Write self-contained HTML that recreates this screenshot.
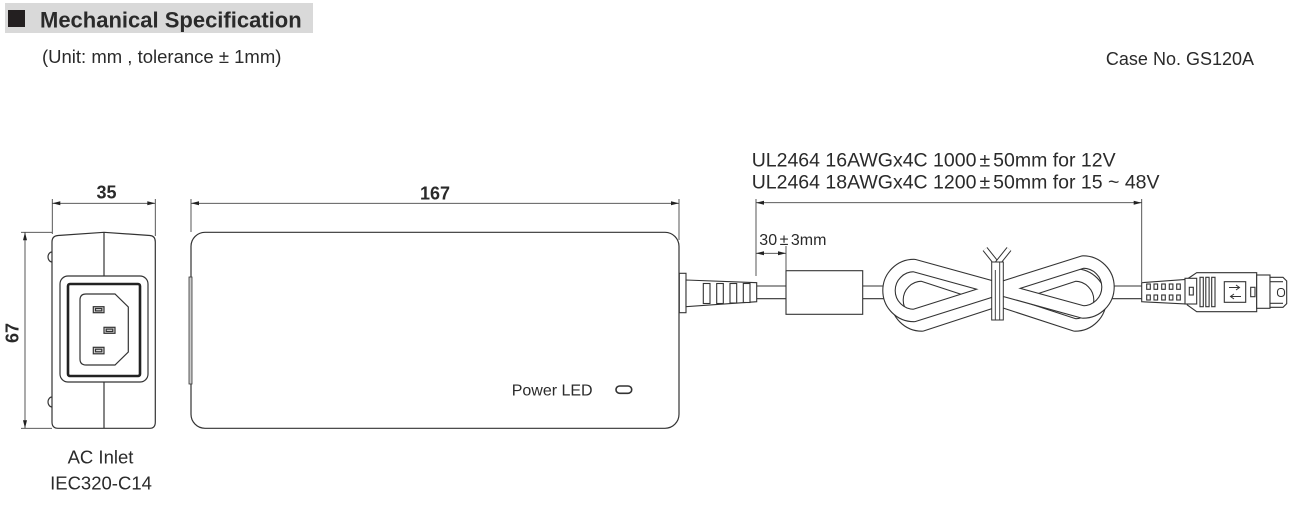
<!DOCTYPE html>
<html><head><meta charset="utf-8"><style>
html,body{margin:0;padding:0;background:#fff;}
svg{display:block;}
text{font-family:"Liberation Sans",Arial,sans-serif;fill:#2a2a2a;}
</style></head><body>
<svg width="1305" height="518" viewBox="0 0 1305 518" xmlns="http://www.w3.org/2000/svg">
<rect width="1305" height="518" fill="#fff"/>
<!-- header -->
<rect x="5" y="3" width="308" height="30" fill="#d9d9d9"/>
<rect x="8" y="10" width="17" height="17" fill="#231f20"/>
<text x="40" y="27.5" font-size="22" font-weight="bold">Mechanical Specification</text>
<text x="42" y="63" font-size="18.5">(Unit: mm , tolerance ± 1mm)</text>
<text x="1254" y="65" font-size="18" text-anchor="end">Case No. GS120A</text>

<!-- ===== Left view (AC inlet) ===== -->
<g stroke="#333" fill="none" stroke-width="1.2">
  <path d="M52,242 Q52,236 58,235.5 L104,232.3 L150,235.5 Q155.3,236 155.3,242 L155.3,422 Q155.3,428.3 150,428.3 L58,428.3 Q52,428.3 52,422 Z"/>
  <line x1="104" y1="232.3" x2="104" y2="276"/>
  <line x1="104" y1="382" x2="104" y2="428.3"/>
  <path d="M52,252 A4,5 0 0 0 52,262"/>
  <path d="M52,397 A4,5 0 0 0 52,407"/>
  <rect x="60" y="276" width="88" height="106" rx="8"/>
  <rect x="68" y="284" width="72" height="92" rx="2" stroke-width="2.6" stroke="#222"/>
  <path d="M86,294 L115,294 L128.3,307 L128.3,352 L115,365 L86,365 Q80,365 80,359 L80,300 Q80,294 86,294 Z"/>
  <rect x="93.3" y="306.7" width="10.7" height="6" fill="#ddd"/>
  <rect x="95.5" y="308.5" width="6.3" height="2.4"/>
  <rect x="104" y="327.3" width="11" height="6" fill="#ddd"/>
  <rect x="106.2" y="329.1" width="6.6" height="2.4"/>
  <rect x="93.3" y="347.3" width="10.7" height="6.5" fill="#ddd"/>
  <rect x="95.5" y="349.2" width="6.3" height="2.6"/>
</g>
<!-- dims for left view -->
<g stroke="#444" stroke-width="0.9" fill="none">
  <line x1="52.3" y1="199" x2="52.3" y2="234"/>
  <line x1="155.3" y1="199" x2="155.3" y2="236"/>
  <line x1="52.3" y1="203.3" x2="155.3" y2="203.3"/>
  <line x1="21" y1="232.3" x2="52" y2="232.3"/>
  <line x1="21" y1="428.3" x2="52" y2="428.3"/>
  <line x1="25" y1="232.3" x2="25" y2="428.3"/>
</g>
<g fill="#222">
  <polygon points="52.3,203.3 60.3,201.3 60.3,205.3"/>
  <polygon points="155.3,203.3 147.3,201.3 147.3,205.3"/>
  <polygon points="25,232.3 23,240.3 27,240.3"/>
  <polygon points="25,428.3 23,420.3 27,420.3"/>
</g>
<text x="106.5" y="198.5" font-size="18" font-weight="bold" text-anchor="middle">35</text>
<text transform="translate(18.5,333) rotate(-90)" font-size="18" font-weight="bold" text-anchor="middle">67</text>
<text x="100.5" y="463.3" font-size="18.5" text-anchor="middle">AC Inlet</text>
<text x="101" y="489.3" font-size="18.5" text-anchor="middle">IEC320-C14</text>

<!-- ===== Main body ===== -->
<g stroke="#333" fill="none" stroke-width="1.2">
  <rect x="191" y="232.3" width="488" height="196" rx="14"/>
  <rect x="189" y="277" width="3" height="107" fill="#ccc" stroke-width="0.8"/>
  <rect x="616" y="386" width="15.7" height="7.3" rx="3.6" stroke-width="1.6"/>
</g>
<text x="511.7" y="395.7" font-size="16">Power LED</text>
<g stroke="#444" stroke-width="0.9" fill="none">
  <line x1="191" y1="199" x2="191" y2="232"/>
  <line x1="679" y1="199" x2="679" y2="240"/>
  <line x1="191" y1="203.3" x2="679" y2="203.3"/>
</g>
<g fill="#222">
  <polygon points="191,203.3 199,201.3 199,205.3"/>
  <polygon points="679,203.3 671,201.3 671,205.3"/>
</g>
<text x="435" y="199.5" font-size="18" font-weight="bold" text-anchor="middle">167</text>

<!-- ===== Cable ===== -->
<g stroke="#333" fill="#fff" stroke-width="1.1">
  <rect x="679.3" y="273.3" width="6.7" height="39.4"/>
  <polygon points="686,280 756.7,282.7 756.7,301.7 686,306.7"/>
  <rect x="703.3" y="283.5" width="6.7" height="20"/>
  <rect x="716.7" y="283.5" width="6.6" height="20"/>
  <rect x="730" y="283.5" width="6.7" height="19.5"/>
  <rect x="743.3" y="283.5" width="6.7" height="19"/>
  <line x1="756.7" y1="286" x2="786" y2="286"/>
  <line x1="756.7" y1="298.7" x2="786" y2="298.7"/>
  <rect x="786" y="270.7" width="76.7" height="43.6"/>
  <line x1="862.7" y1="286" x2="892" y2="286"/>
  <line x1="862.7" y1="298.7" x2="892" y2="298.7"/>
  <line x1="1105" y1="286" x2="1141.7" y2="286"/>
  <line x1="1105" y1="298.7" x2="1141.7" y2="298.7"/>
</g>
<!-- coiled loops -->
<g fill="none" stroke-linejoin="round">
  <path d="M922,325 L1075,275 A25,25 0 0 1 1075,325 L922,275 A25,25 0 0 0 922,325 Z" stroke="#333" stroke-width="13.5"/>
  <path d="M922,325 L1075,275 A25,25 0 0 1 1075,325 L922,275 A25,25 0 0 0 922,325 Z" stroke="#fff" stroke-width="11.3"/>
  <path d="M914,315.5 L1083,262 A25,25 0 0 1 1083,312 L914,265.5 A25,25 0 0 0 914,315.5 Z" stroke="#333" stroke-width="13.5"/>
  <path d="M914,315.5 L1083,262 A25,25 0 0 1 1083,312 L914,265.5 A25,25 0 0 0 914,315.5 Z" stroke="#fff" stroke-width="11.3"/>
</g>
<!-- tie -->
<g>
  <line x1="997" y1="264" x2="985" y2="249" stroke="#333" stroke-width="6"/>
  <line x1="997" y1="264" x2="985" y2="249" stroke="#fff" stroke-width="4"/>
  <line x1="997" y1="264" x2="1009" y2="249" stroke="#333" stroke-width="6"/>
  <line x1="997" y1="264" x2="1009" y2="249" stroke="#fff" stroke-width="4"/>
  <rect x="991.7" y="262" width="11.6" height="58" fill="#fff" stroke="#333" stroke-width="1"/>
  <line x1="995.3" y1="270" x2="995.3" y2="320" stroke="#333" stroke-width="0.9"/>
  <line x1="999.7" y1="262" x2="999.7" y2="320" stroke="#333" stroke-width="0.9"/>
</g>
<!-- cable dims -->
<g stroke="#444" stroke-width="0.9" fill="none">
  <line x1="756" y1="199" x2="756" y2="276"/>
  <line x1="786" y1="246" x2="786" y2="270.7"/>
  <line x1="756" y1="253.3" x2="786" y2="253.3"/>
  <line x1="756" y1="202.7" x2="1141.7" y2="202.7"/>
  <line x1="1141.7" y1="199" x2="1141.7" y2="282"/>
</g>
<g fill="#222">
  <polygon points="756,253.3 764,251.3 764,255.3"/>
  <polygon points="786,253.3 778,251.3 778,255.3"/>
  <polygon points="756,202.7 764,200.7 764,204.7"/>
  <polygon points="1141.7,202.7 1133.7,200.7 1133.7,204.7"/>
</g>
<text x="759.3" y="245" font-size="16">30<tspan dx="2.5">±</tspan><tspan dx="2.5">3mm</tspan></text>
<text x="751.7" y="166.7" font-size="19.5">UL2464 16AWGx4C 1000<tspan dx="3">±</tspan><tspan dx="3">50mm for 12V</tspan></text>
<text x="751.7" y="188.3" font-size="19.5">UL2464 18AWGx4C 1200<tspan dx="3">±</tspan><tspan dx="3">50mm for 15 ~ 48V</tspan></text>

<!-- ===== DC connector ===== -->
<g stroke="#333" fill="#fff" stroke-width="1.1">
  <polygon points="1141.7,282.7 1187.3,279.3 1187.3,304 1141.7,301.7"/>
  <rect x="1146.7" y="284" width="3.6" height="5.3"/>
  <rect x="1154" y="284" width="3.6" height="5.3"/>
  <rect x="1161.7" y="284" width="3.6" height="5.3"/>
  <rect x="1169.3" y="284" width="3.6" height="5.3"/>
  <rect x="1176.7" y="284" width="3.6" height="5.3"/>
  <rect x="1146.7" y="295" width="3.6" height="5"/>
  <rect x="1154" y="295" width="3.6" height="5"/>
  <rect x="1161.7" y="295" width="3.6" height="5"/>
  <rect x="1169.3" y="295" width="3.6" height="5"/>
  <rect x="1176.7" y="295" width="3.6" height="5"/>
  <polygon points="1187.3,279 1196.7,272.7 1256.7,272.7 1256.7,311.7 1196.7,311.7 1187.3,305"/>
  <rect x="1185" y="278.3" width="11.7" height="25.7"/>
  <rect x="1189.3" y="287.3" width="4" height="7.7"/>
  <rect x="1200" y="277.3" width="3.3" height="29.4"/>
  <rect x="1205.8" y="277.3" width="3.3" height="29.4"/>
  <rect x="1211.7" y="277.3" width="3.3" height="29.4"/>
  <rect x="1224.3" y="281.7" width="21.4" height="20.6"/>
  <rect x="1250.7" y="287.3" width="4.3" height="9.4"/>
  <rect x="1256.7" y="275" width="13.3" height="33.3"/>
  <path d="M1270,277.3 L1283,277.3 L1286.7,281 L1286.7,303.6 L1283,307.3 L1270,307.3 Z"/>
  <line x1="1270" y1="281.7" x2="1283" y2="281.7"/>
  <line x1="1270" y1="303.3" x2="1283" y2="303.3"/>
  <rect x="1277.5" y="288.5" width="7" height="8" rx="3"/>
</g>
<g stroke="#333" fill="none" stroke-width="1">
  <path d="M1229,287.5 L1239,287.5 M1236,285 L1239.5,287.5 L1236,290"/>
  <path d="M1241,296.5 L1231,296.5 M1234,294 L1230.5,296.5 L1234,299"/>
</g>
</svg>
</body></html>
